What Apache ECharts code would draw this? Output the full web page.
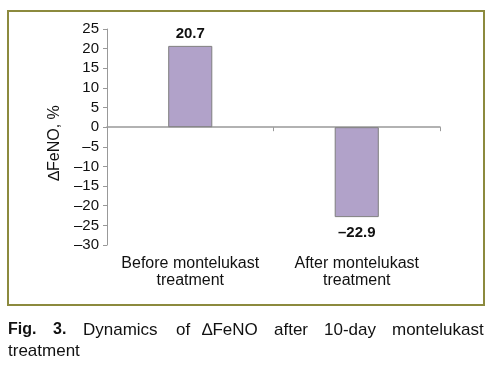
<!DOCTYPE html>
<html>
<head>
<meta charset="utf-8">
<script src="https://cdn.jsdelivr.net/npm/echarts@6/dist/echarts.min.js"></script>
<style>
html,body{margin:0;padding:0;background:#fff;}
#c{width:492px;height:370px;}
</style>
</head>
<body>
<div id="c"></div>
<script>
var categories = ['Before montelukast\ntreatment', 'After montelukast\ntreatment'];
var values = [20.7, -22.9];
var yMin = -30, yMax = 25, yStep = 5;
var yName = '\u2206FeNO, %';
var captionBold = ['Fig.', '3.'];
var captionWords = ['Dynamics', 'of', '\u2206FeNO', 'after', '10-day', 'montelukast'];
var captionLine2 = 'treatment';

var FONT = '"Liberation Sans", Arial, Helvetica, sans-serif';
function dash(v){ return String(v).replace('-', '\u2013'); }

var chart = echarts.init(document.getElementById('c'));

var wordX = [83, 176, 202, 274, 324, 392];
var boldX = [8, 53];
var graphics = [{
  type: 'rect', shape: {x: 8, y: 11, width: 476, height: 294},
  style: {fill: 'none', stroke: '#8c8a3e', lineWidth: 2}, silent: true
}];
captionBold.forEach(function(w, i){
  graphics.push({type:'text', left: boldX[i], top: 322,
    style:{text: w, font: 'bold 16px ' + FONT, fill:'#111'}});
});
captionWords.forEach(function(w, i){
  graphics.push({type:'text', left: wordX[i], top: 322,
    style:{text: w, font: '17px ' + FONT, fill:'#111'}});
});
graphics.push({type:'text', left: 8, top: 343,
  style:{text: captionLine2, font: '17px ' + FONT, fill:'#111'}});

chart.setOption({
  animation: false,
  backgroundColor: '#fff',
  grid: {left: 107, right: 52, top: 29, bottom: 125},
  xAxis: [{
    type: 'category', data: categories,
    axisLine: {onZero: true, lineStyle: {color: '#999', width: 1.5}},
    axisTick: {show: true, length: 4, lineStyle: {color: '#999'}},
    axisLabel: {show: false}
  }, {
    type: 'category', data: categories, position: 'bottom',
    axisLine: {show: false, onZero: false}, axisTick: {show: false},
    axisLabel: {show: true, interval: 0, margin: 10, fontFamily: FONT, fontSize: 16, color: '#111', lineHeight: 17}
  }],
  yAxis: {
    type: 'value', min: yMin, max: yMax, interval: yStep,
    name: yName, nameLocation: 'middle', nameRotate: 90, nameGap: 37,
    nameTextStyle: {fontFamily: FONT, fontSize: 16, color: '#111', padding: [0, 12, 0, 0]},
    axisLine: {show: true, lineStyle: {color: '#999', width: 1}},
    axisTick: {show: true, length: 4, lineStyle: {color: '#999'}},
    splitLine: {show: false},
    axisLabel: {fontFamily: FONT, fontSize: 15, color: '#111', margin: 8, formatter: function(v){ return dash(v); }}
  },
  series: [{
    type: 'bar', xAxisIndex: 0, barWidth: '26.5%',
    itemStyle: {color: '#b1a2c9', borderColor: '#7f7f7f', borderWidth: 1},
    label: {show: true, fontFamily: FONT, fontSize: 15, fontWeight: 'bold', color: '#111',
      formatter: function(p){ return dash(p.value); }},
    data: values.map(function(v){
      return {value: v, label: {position: v >= 0 ? 'top' : 'bottom', distance: v >= 0 ? 5 : 8}};
    })
  }],
  graphic: graphics
});
</script>
</body>
</html>
